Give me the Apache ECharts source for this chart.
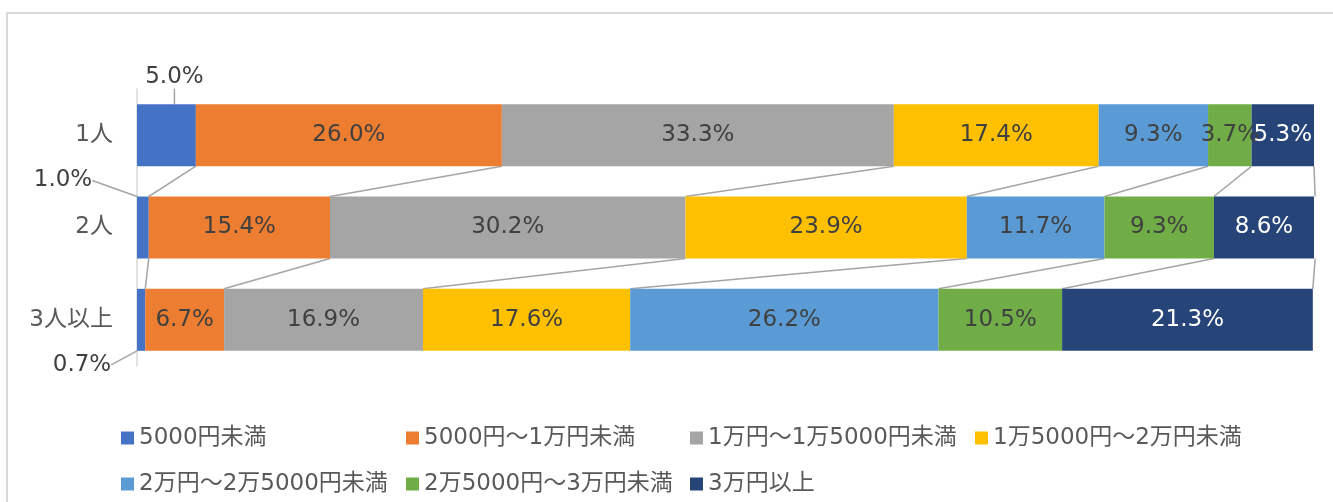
<!DOCTYPE html>
<html>
<head>
<meta charset="utf-8">
<script src="https://cdn.jsdelivr.net/npm/echarts@6/dist/echarts.min.js"></script>
<style>
  html, body { margin: 0; padding: 0; background: #fff; }
  #chart { width: 1333px; height: 502px; }
</style>
</head>
<body>
<div id="chart"></div>
<script>
  const categories = ['1人', '2人', '3人以上']
  const seriesNames = ['5000円未満', '5000円～1万円未満', '1万円～1万5000円未満', '1万5000円～2万円未満',
    '2万円～2万5000円未満', '2万5000円～3万円未満', '3万円以上']
  const under5k = [5.0, 1.0, 0.7]
  const from5kTo10k = [26.0, 15.4, 6.7]
  const from10kTo15k = [33.3, 30.2, 16.9]
  const from15kTo20k = [17.4, 23.9, 17.6]
  const from20kTo25k = [9.3, 11.7, 26.2]
  const from25kTo30k = [3.7, 9.3, 10.5]
  const over30k = [5.3, 8.6, 21.3]

  const seriesValues = [under5k, from5kTo10k, from10kTo15k, from15kTo20k, from20kTo25k, from25kTo30k, over30k]
  const colors = ['#4472C4', '#ED7D31', '#A5A5A5', '#FFC000', '#5B9BD5', '#70AD47', '#264478']
  const labelColors = ['#404040', '#404040', '#404040', '#404040', '#404040', '#404040', '#ffffff']
  const FONT = '"DejaVu Sans", "Noto Sans CJK JP", sans-serif'
  const BAR_W = 62

  // 系列線: 各境界の累積値を上の棒→下の棒で結ぶ
  const seriesLineData = []
  for (let k = 0; k < seriesValues.length; k++) {
    for (let r = 0; r < categories.length - 1; r++) {
      let upper = 0
      let lower = 0
      for (let s = 0; s <= k; s++) {
        upper += seriesValues[s][r]
        lower += seriesValues[s][r + 1]
      }
      seriesLineData.push([upper, r, lower])
    }
  }

  // 小さい値のラベル位置(棒の矩形からの相対)
  function smallLabelLayout(p) {
    const r = p.rect
    if (p.dataIndex === 0) {
      return { x: r.x + r.width / 2 + 8, y: r.y - 27, align: 'center', verticalAlign: 'middle' }
    }
    if (p.dataIndex === 1) {
      return { x: r.x - 74, y: r.y - 16, align: 'center', verticalAlign: 'middle' }
    }
    return { x: r.x - 55, y: r.y + r.height + 14, align: 'center', verticalAlign: 'middle' }
  }

  const barSeries = seriesNames.map((name, i) => {
    const s = {
      name: name,
      type: 'bar',
      stack: 'total',
      barWidth: BAR_W,
      z: 2,
      itemStyle: { color: colors[i] },
      label: {
        show: true,
        position: 'inside',
        color: labelColors[i],
        fontFamily: FONT,
        fontSize: 23,
        formatter(p) {
          return p.value.toFixed(1) + '%'
        }
      },
      data: seriesValues[i]
    }
    if (i === 0) {
      s.labelLayout = smallLabelLayout
      s.labelLine = { show: true, lineStyle: { color: '#A5A5A5', width: 1.5 } }
    }
    return s
  })

  const lineSeries = {
    type: 'custom',
    z: 1,
    silent: true,
    renderItem(params, api) {
      const half = BAR_W / 2
      const p1 = api.coord([api.value(0), api.value(1)])
      const p2 = api.coord([api.value(2), api.value(1) + 1])
      return {
        type: 'line',
        shape: { x1: p1[0], y1: p1[1] + half, x2: p2[0], y2: p2[1] - half },
        style: { stroke: '#A5A5A5', lineWidth: 1.5 }
      }
    },
    encode: { x: [0, 2], y: 1 },
    data: seriesLineData
  }

  // 凡例: Excel風に列をそろえる
  const legendCols = [116, 401, 685, 970]
  const legendRows = [433, 479]
  const legends = seriesNames.map((name, i) => ({
    data: [name],
    left: legendCols[i % 4],
    top: legendRows[Math.floor(i / 4)] - 13,
    itemWidth: 13,
    itemHeight: 13,
    icon: 'rect',
    textStyle: { color: '#595959', fontFamily: FONT, fontSize: 23, lineHeight: 26 }
  }))

  const chart = echarts.init(document.getElementById('chart'))
  chart.setOption({
    animation: false,
    graphic: [{
      type: 'rect',
      shape: { x: 7, y: 13, width: 1400, height: 600 },
      style: { fill: 'none', stroke: '#D9D9D9', lineWidth: 2 }
    }],
    grid: { left: 137, right: 19, top: 89, bottom: 136 },
    legend: legends,
    xAxis: {
      type: 'value',
      min: 0,
      max: 100,
      show: false
    },
    yAxis: {
      type: 'category',
      inverse: true,
      data: categories,
      axisLine: { show: true, lineStyle: { color: '#D9D9D9', width: 1.5 } },
      axisTick: { show: false },
      axisLabel: { color: '#595959', fontFamily: FONT, fontSize: 23, margin: 24 }
    },
    series: barSeries.concat([lineSeries])
  })
</script>
</body>
</html>
